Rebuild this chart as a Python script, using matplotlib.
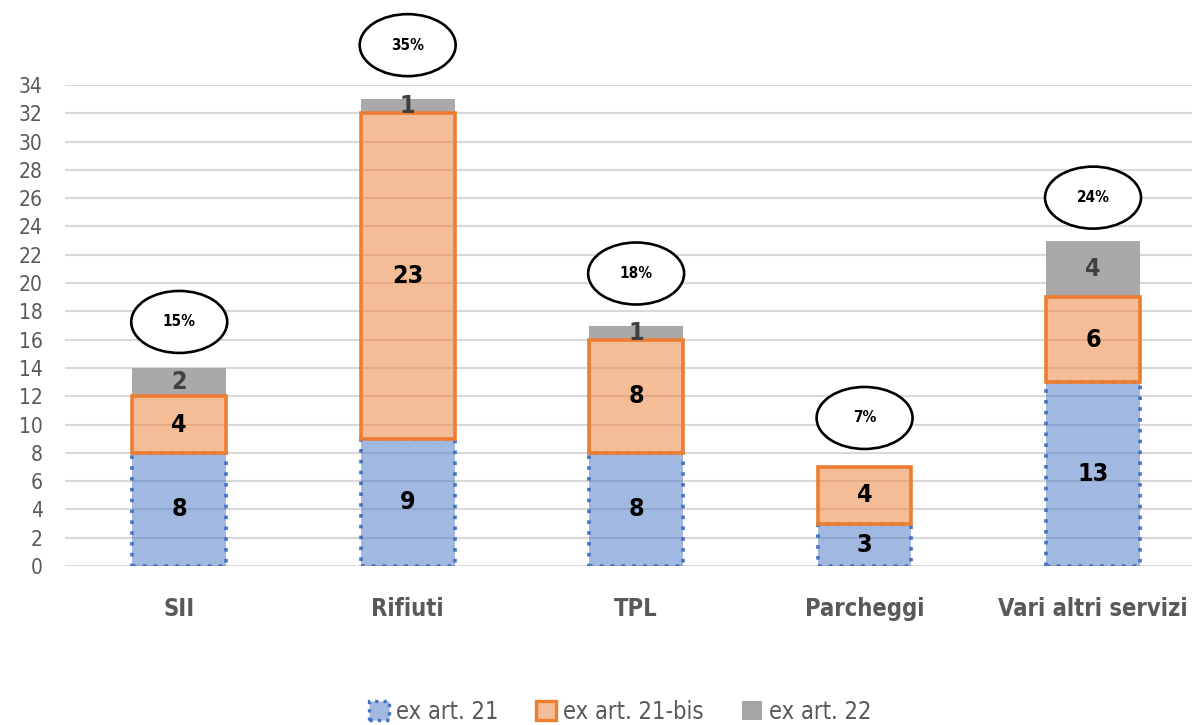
import matplotlib
matplotlib.use("Agg")
import matplotlib.pyplot as plt
from matplotlib.patches import Ellipse, Patch
import numpy as np

# --- data -------------------------------------------------------------
categories = ["SII", "Rifiuti", "TPL", "Parcheggi", "Vari altri servizi"]
ex_art_21 = [8, 9, 8, 3, 13]
ex_art_21_bis = [4, 23, 8, 4, 6]
ex_art_22 = [2, 1, 1, 0, 4]
shares = ["15%", "35%", "18%", "7%", "24%"]
series_names = ["ex art. 21", "ex art. 21-bis", "ex art. 22"]
y_ticks = list(range(0, 35, 2))

# --- style ------------------------------------------------------------
plt.rcParams["font.family"] = ["DejaVu Sans"]
plt.rcParams["font.stretch"] = "condensed"
BLUE_EDGE = "#4472C4"
ORANGE_EDGE = "#ED7D31"
GRAY = "#A5A5A5"
TXT_GRAY = "#595959"
BLUE_FILL = (68 / 255, 114 / 255, 196 / 255, 0.5)
ORANGE_FILL = (237 / 255, 125 / 255, 49 / 255, 0.5)

fig = plt.figure(figsize=(11.92, 7.25), dpi=100)
# plot area: x 65..1192 px, y 85..566 px (values 0..34)
ax = fig.add_axes([65 / 1192, 1 - 566 / 725, (1192 - 65) / 1192, (566 - 85) / 725])

x = np.arange(len(categories))
width = 0.41
b21 = np.array(ex_art_21)
b21bis = np.array(ex_art_21_bis)
b22 = np.array(ex_art_22)

ax.bar(x, b21, width, facecolor=BLUE_FILL, edgecolor=BLUE_EDGE,
       linewidth=2.6, linestyle=(0, (1, 2)), zorder=3)
ax.bar(x, b21bis, width, bottom=b21, facecolor=ORANGE_FILL,
       edgecolor=ORANGE_EDGE, linewidth=2.6, zorder=3)
ax.bar(x, b22, width, bottom=b21 + b21bis, facecolor=GRAY, alpha=0.95,
       edgecolor="none", zorder=2.9)

label_kw = dict(ha="center", va="center", fontsize=18, fontweight="bold", zorder=5)
for i in range(len(categories)):
    ax.text(x[i], b21[i] / 2, str(b21[i]), color="black", **label_kw)
    ax.text(x[i], b21[i] + b21bis[i] / 2, str(b21bis[i]), color="black", **label_kw)
    if b22[i] > 0:
        ax.text(x[i], b21[i] + b21bis[i] + b22[i] / 2, str(b22[i]), color="#404040", **label_kw)

# percentage callouts in ellipses above each stack
px_per_x = 228.5
px_per_y = 481.0 / 34
dy_px = [46, 54, 52, 49, 43]
totals = b21 + b21bis + b22
for i in range(len(categories)):
    cx = x[i]
    cy = totals[i] + dy_px[i] / px_per_y
    e = Ellipse((cx, cy), 96 / px_per_x, 62 / px_per_y, facecolor="white",
                edgecolor="black", linewidth=1.9, clip_on=False, zorder=6)
    ax.add_patch(e)
    ax.text(cx, cy, shares[i], ha="center", va="center", fontsize=11,
            fontweight="bold", color="black", zorder=7, clip_on=False)

ax.set_xlim(-0.5, 4 + 99 / px_per_x)
ax.set_ylim(0, 34)
ax.set_yticks(y_ticks)
ax.set_yticklabels([str(t) for t in y_ticks], fontsize=15, color=TXT_GRAY)
ax.set_xticks(x)
ax.set_xticklabels(categories, fontsize=17, fontweight="bold", color=TXT_GRAY)
ax.tick_params(axis="y", length=0, pad=16)
ax.tick_params(axis="x", length=0, pad=22)
ax.grid(axis="y", color="#D9D9D9", linewidth=1.5, zorder=0)
ax.set_axisbelow(True)
for s in ax.spines.values():
    s.set_visible(False)

handles = [
    Patch(facecolor=BLUE_FILL, edgecolor=BLUE_EDGE, linewidth=2.4, linestyle=(0, (1, 1.5))),
    Patch(facecolor=ORANGE_FILL, edgecolor=ORANGE_EDGE, linewidth=2.4),
    Patch(facecolor=GRAY, edgecolor="none"),
]
leg = fig.legend(handles, series_names, loc="center", bbox_to_anchor=(620 / 1192, 1 - 712 / 725),
                 ncol=3, frameon=False, fontsize=17, handlelength=0.85, handleheight=0.85,
                 handletextpad=0.3, columnspacing=1.6)
for t in leg.get_texts():
    t.set_color(TXT_GRAY)

fig.savefig("out.png", dpi=100)
